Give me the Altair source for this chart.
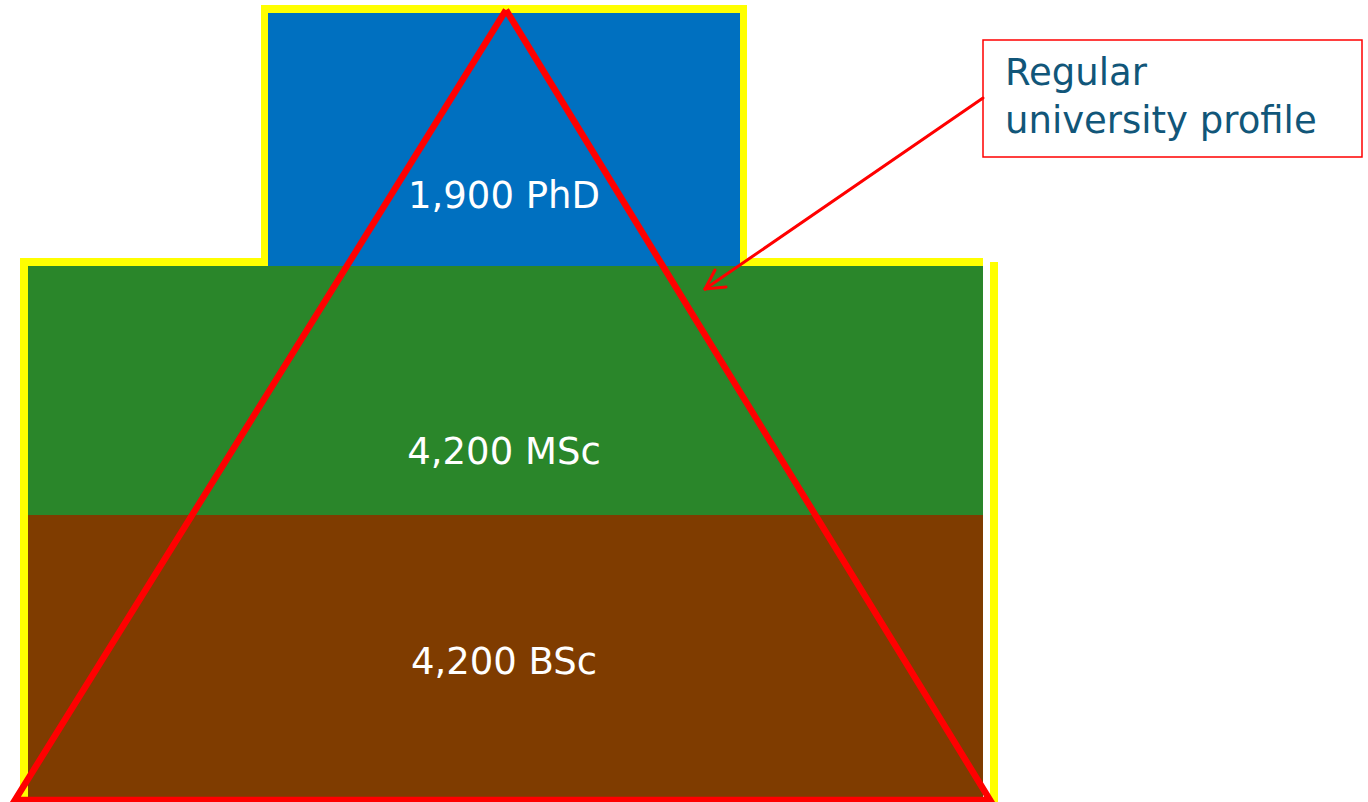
import altair as alt
import pandas as pd

W, H = 1368, 802

# Degree levels (top to bottom) and student counts
levels = ["PhD", "MSc", "BSc"]
counts = [1900, 4200, 4200]
fills = ["#0070C0", "#2A862A", "#7F3C00"]
# block extents in diagram units (pixels from top-left)
bx0 = [268, 28, 28]
bx1 = [740, 983, 983]
by0 = [13, 266, 515]
by1 = [266, 515, 802]
label_y = [208, 464, 674]

# yellow outline pieces
ox0 = [261, 20, 990]
ox1 = [747, 983, 998]
oy0 = [5, 258, 262]
oy1 = [266, 802, 802]

# red "regular university profile" triangle
tri_x = [506, 15, 990, 506]
tri_y = [10, 800, 800, 10]

# annotation
note_lines = ["Regular", "university profile"]
note_box = dict(x=983, x2=1362, y=40, y2=157)
note_text_x = 1005
note_text_y = [85, 133]
arrow_x = [983, 705, 705]
arrow_y = [98, 289, 289]
arrow_x2 = [705, 715, 726]
arrow_y2 = [289, 270, 287]

xs = alt.Scale(domain=[0, W], range=[0, W], nice=False, zero=False)
ys = alt.Scale(domain=[0, H], range=[0, H], nice=False, zero=False)

def X(f):
    return alt.X(f, type="quantitative", scale=xs, axis=None)

def Y(f):
    return alt.Y(f, type="quantitative", scale=ys, axis=None)

outline = pd.DataFrame({"x0": ox0, "x1": ox1, "y0": oy0, "y1": oy1})
blocks = pd.DataFrame({
    "level": levels, "count": counts, "fill": fills,
    "x0": bx0, "x1": bx1, "y0": by0, "y1": by1, "ly": label_y,
})
blocks["label"] = [f"{c:,} {l}" for c, l in zip(counts, levels)]
blocks["lx"] = 504

tri = pd.DataFrame({"x": tri_x, "y": tri_y, "o": list(range(len(tri_x)))})
note_df = pd.DataFrame([note_box])
note_txt = pd.DataFrame({"t": note_lines, "x": [note_text_x] * 2, "y": note_text_y})
arrow = pd.DataFrame({"x": arrow_x, "y": arrow_y, "x2": arrow_x2, "y2": arrow_y2})

l_outline = alt.Chart(outline).mark_rect(color="#FFFF00").encode(
    x=X("x0"), x2="x1", y=Y("y0"), y2="y1")
l_blocks = alt.Chart(blocks).mark_rect().encode(
    x=X("x0"), x2="x1", y=Y("y0"), y2="y1",
    color=alt.Color("fill:N", scale=None))
l_labels = alt.Chart(blocks).mark_text(
    color="white", font="DejaVu Sans", fontSize=37, align="center", baseline="alphabetic"
).encode(x=X("lx"), y=Y("ly"), text="label:N")
l_tri = alt.Chart(tri).mark_line(color="#FF0000", strokeWidth=6.5, strokeJoin="miter").encode(
    x=X("x"), y=Y("y"), order="o:Q")
l_box = alt.Chart(note_df).mark_rect(fill="white", stroke="#FF0000", strokeWidth=1.5).encode(
    x=X("x"), x2="x2", y=Y("y"), y2="y2")
l_note = alt.Chart(note_txt).mark_text(
    color="#115679", font="DejaVu Sans", fontSize=37, align="left", baseline="alphabetic"
).encode(x=X("x"), y=Y("y"), text="t:N")
l_arrow = alt.Chart(arrow).mark_rule(color="#FF0000", strokeWidth=3, strokeCap="round").encode(
    x=X("x"), y=Y("y"), x2="x2", y2="y2")

chart = alt.layer(
    l_outline, l_blocks, l_labels, l_tri, l_box, l_note, l_arrow
).properties(
    width=W, height=H, padding=0, autosize=alt.AutoSizeParams(type="none"),
    background="white",
).configure_view(stroke=None)

chart.save("out.html", embed_options={"renderer": "svg", "actions": False})
